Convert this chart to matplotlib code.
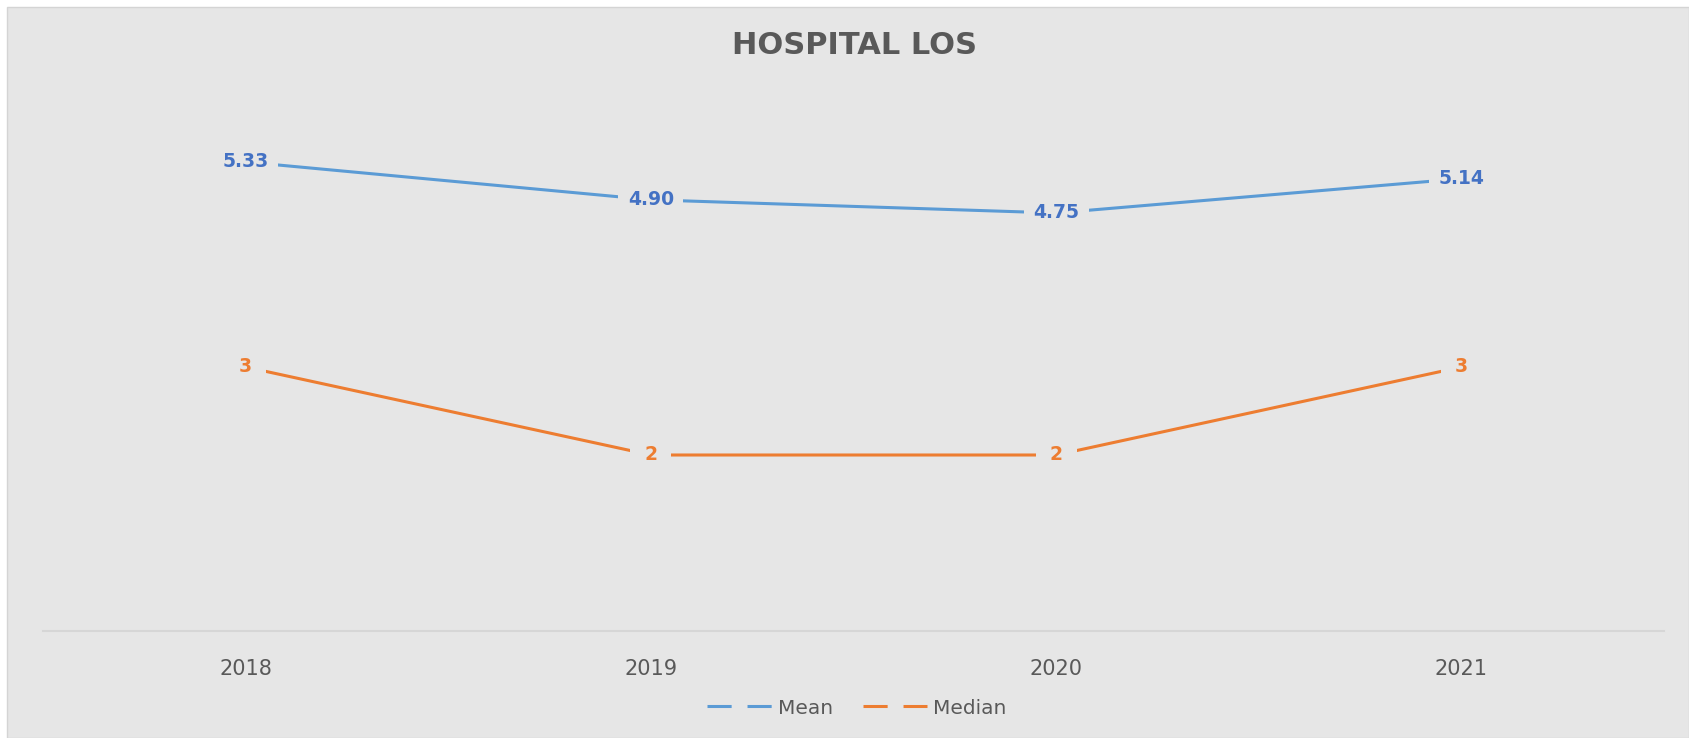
import matplotlib.pyplot as plt
from matplotlib.lines import Line2D
from matplotlib.patches import Rectangle

# data
years = ["2018", "2019", "2020", "2021"]
mean_los = [5.33, 4.90, 4.75, 5.14]
median_los = [3, 2, 2, 3]
mean_labels = ["5.33", "4.90", "4.75", "5.14"]
median_labels = ["3", "2", "2", "3"]

bg = "#E6E6E6"
blue_line = "#5B9BD5"
blue_text = "#4472C4"
orange = "#ED7D31"
grey_text = "#595959"

W, H = 1689, 738
fig = plt.figure(figsize=(W / 100, H / 100), dpi=100, facecolor="white")

# chart area background (white margin on top and left like the screenshot)
fig.patches.append(Rectangle((7 / W, 0), 1 - 7 / W, 1 - 7 / H, transform=fig.transFigure,
                             facecolor=bg, edgecolor="#D4D4D4", lw=1.0, zorder=-10))

ax = fig.add_axes([43 / W, 1 - 631 / H, (1664 - 43) / W, (631 - 103) / H])
ax.set_facecolor(bg)
ax.patch.set_alpha(0)
ax.set_zorder(1)

x = list(range(len(years)))
ax.plot(x, mean_los, color=blue_line, lw=2.2, solid_capstyle="butt", zorder=2)
ax.plot(x, median_los, color=orange, lw=2.2, solid_capstyle="butt", zorder=2)

# data labels sit on the points, boxed in background colour so the line stops short
for xi, v, s in zip(x, mean_los, mean_labels):
    ax.text(xi, v, s, ha="center", va="center", fontsize=13.5, fontweight="bold",
            color=blue_text, zorder=3,
            bbox=dict(boxstyle="square,pad=0.5", facecolor=bg, edgecolor="none"))
for xi, v, s in zip(x, median_los, median_labels):
    ax.text(xi, v, s, ha="center", va="center", fontsize=13.5, fontweight="bold",
            color=orange, zorder=3,
            bbox=dict(boxstyle="square,pad=0.75", facecolor=bg, edgecolor="none"))

ax.set_xlim(-0.5, len(years) - 0.5)
ax.set_ylim(0, 6)
ax.set_xticks(x)
ax.set_xticklabels(years, fontsize=15, color=grey_text)
ax.tick_params(axis="x", length=0, pad=20)
ax.set_yticks([])
for side in ["top", "right", "left"]:
    ax.spines[side].set_visible(False)
ax.spines["bottom"].set_color("#D6D6D6")
ax.spines["bottom"].set_linewidth(1.5)

fig.text(854 / W, 1 - 46 / H, "HOSPITAL LOS", ha="center", va="center",
         fontsize=22, fontweight="bold", color=grey_text)

handles = [
    Line2D([], [], color=blue_line, lw=2.2, linestyle=(0, (7.9, 5.2))),
    Line2D([], [], color=orange, lw=2.2, linestyle=(0, (7.9, 5.2))),
]
leg = fig.legend(handles, ["Mean", "Median"], loc="center", ncol=2, frameon=False,
                 bbox_to_anchor=(857 / W, 1 - 708 / H), fontsize=14.5,
                 handlelength=3.2, handletextpad=0.3, columnspacing=1.5)
for t in leg.get_texts():
    t.set_color(grey_text)

fig.savefig("out.png", dpi=100, facecolor="white")
